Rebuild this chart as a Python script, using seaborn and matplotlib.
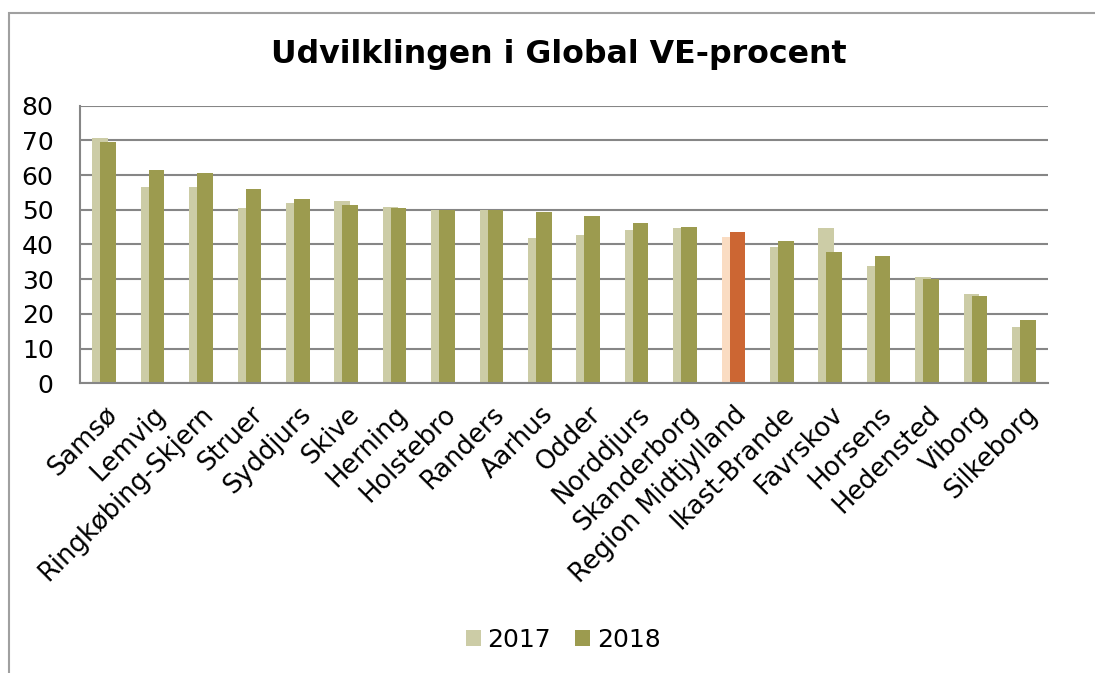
import matplotlib
matplotlib.use("Agg")
import matplotlib.pyplot as plt
import seaborn as sns
import pandas as pd
import numpy as np
from matplotlib.patches import Rectangle, Patch

categories = ["Samsø", "Lemvig", "Ringkøbing-Skjern", "Struer", "Syddjurs", "Skive",
              "Herning", "Holstebro", "Randers", "Aarhus", "Odder", "Norddjurs",
              "Skanderborg", "Region Midtjylland", "Ikast-Brande", "Favrskov",
              "Horsens", "Hedensted", "Viborg", "Silkeborg"]
values_2017 = [70.6, 56.7, 56.5, 50.5, 52.0, 52.5, 50.7, 50.0, 50.0, 41.8,
               42.7, 44.2, 44.8, 42.2, 39.4, 44.8, 33.9, 30.5, 25.7, 16.1]
values_2018 = [69.6, 61.6, 60.5, 56.1, 53.0, 51.4, 50.4, 50.0, 49.9, 49.3,
               48.2, 46.1, 44.9, 43.6, 41.0, 37.8, 36.7, 30.0, 25.2, 18.3]
years = ["2017", "2018"]
highlight = "Region Midtjylland"

col17, col18 = "#CCCCA6", "#9C9B4F"
hcol17, hcol18 = "#FADCC2", "#CC6633"

sns.set_theme(style="white")
plt.rcParams['font.family'] = ['DejaVu Sans']
plt.rcParams['text.color'] = 'black'
plt.rcParams['xtick.color'] = 'black'
plt.rcParams['ytick.color'] = 'black'

fig = plt.figure(figsize=(10.95, 6.73), dpi=100)
ax = fig.add_axes([80/1095, 1-383.3/673, 968/1095, 277.6/673])

idx = np.arange(len(categories))
shift = 0.083
bw = 0.32
for vals, off, c, hc in [(values_2017, -shift, col17, hcol17), (values_2018, shift, col18, hcol18)]:
    df = pd.DataFrame({"x": idx + off, "y": vals, "cat": categories})
    pal = {c_: (hc if c_ == highlight else c) for c_ in categories}
    sns.barplot(data=df, x="x", y="y", hue="cat", palette=pal, native_scale=True,
                width=bw, legend=False, ax=ax, saturation=1, dodge=False,
                edgecolor="none", linewidth=0, zorder=3)

ax.set_xlim(-0.5, len(categories) - 0.5)
ax.set_ylim(0, 80)
ax.set_yticks(range(0, 81, 10))
ax.set_xticks(idx)
ax.set_xticklabels(categories, rotation=45, ha="right", rotation_mode="anchor", fontsize=18.5)
ax.tick_params(axis="y", labelsize=18, pad=19, length=0)
ax.tick_params(axis="x", pad=13, length=0)
ax.set_xlabel("")
ax.set_ylabel("")
ax.yaxis.grid(True, color="#868686", linewidth=1.5, zorder=0)
ax.set_axisbelow(True)
for s in ["top", "right"]:
    ax.spines[s].set_visible(False)
for s in ["left", "bottom"]:
    ax.spines[s].set_color("#868686")
    ax.spines[s].set_linewidth(1.5)
    ax.spines[s].set_zorder(4)

fig.text(559/1095, 1-55/673, "Udvilklingen i Global VE-procent", ha="center", va="center",
         fontsize=22.8, fontweight="bold", color="black")

handles = [Patch(facecolor=col17, edgecolor="none", label=years[0]),
           Patch(facecolor=col18, edgecolor="none", label=years[1])]
fig.legend(handles=handles, loc="center", bbox_to_anchor=(563/1095, 1-640/673), ncol=2,
           frameon=False, fontsize=18, handlelength=0.6, handleheight=0.6,
           handletextpad=0.25, columnspacing=1.0)

fig.patches.append(Rectangle((9/1095, -0.1), 1.2, 1-13/673 + 0.1, transform=fig.transFigure,
                             fill=False, edgecolor="#A0A0A0", linewidth=1.5))

fig.savefig("out.png", dpi=100)
